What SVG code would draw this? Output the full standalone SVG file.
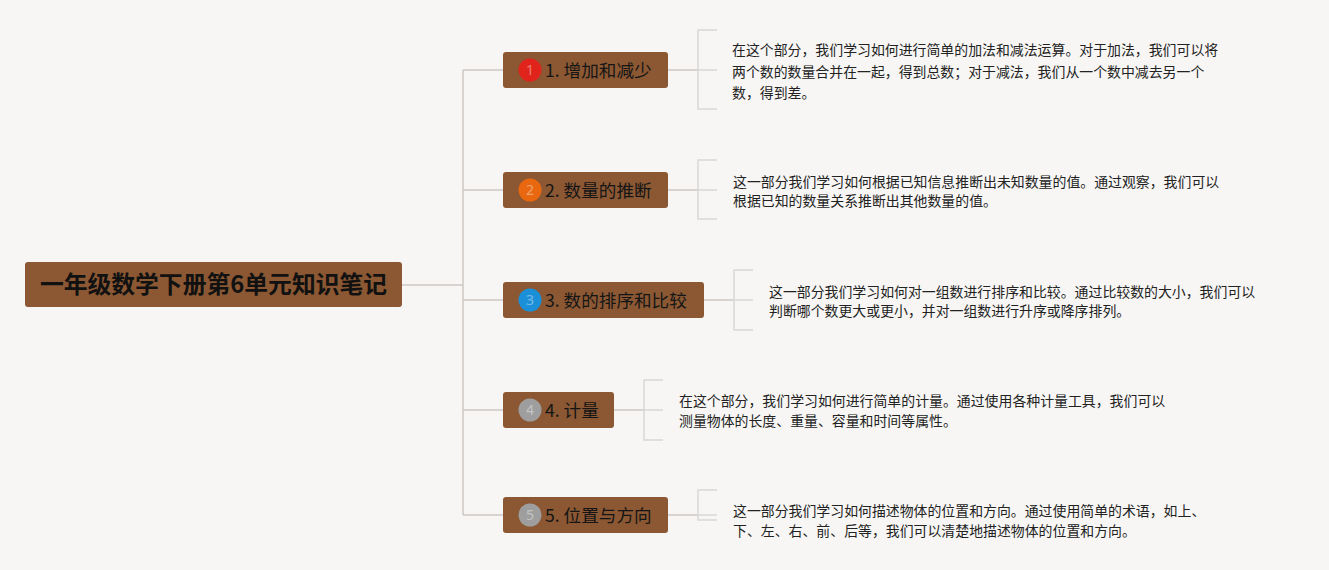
<svg xmlns="http://www.w3.org/2000/svg" width="1329" height="570" viewBox="0 0 1329 570">
<style>
.bg{fill:#f7f6f4}
.box{fill:#8b5833}
.root{font-family:"Noto Sans CJK SC","Noto Sans",sans-serif;font-weight:bold;font-size:23.8px;fill:#111}
.lbl{font-family:"Noto Sans CJK SC","Noto Sans",sans-serif;font-size:17.6px;fill:#151515}
.num{font-family:"Noto Sans","Noto Sans CJK SC",sans-serif;font-size:14px;fill:#ffffff;fill-opacity:0.4}
.txt{font-family:"Noto Sans CJK SC","Noto Sans",sans-serif;font-size:13.9px;fill:#222}
.conn{fill:none;stroke:#cfc8c2;stroke-width:1.5}
.brk{fill:none;stroke:#d8d8d8;stroke-width:1.5}
</style>
<rect class="bg" x="0" y="0" width="1329" height="570"/>
<g id="connectors">
<path class="conn" d="M402,285 H463 M463,70 V515 M463,70 H503 M463,190 H503 M463,300 H503 M463,410 H503 M463,515 H503"/>
<path class="conn" d="M668,70 H698 M668,190 H698 M704,300 H734 M614,410 H644 M668,515 H698"/>
<path class="brk" d="M717,30 H698 V109 H717 M698,70 H717"/>
<path class="brk" d="M717,160 H698 V219 H717 M698,190 H717"/>
<path class="brk" d="M753,270 H734 V330 H753 M734,300 H753"/>
<path class="brk" d="M663,380 H644 V440 H663 M644,410 H663"/>
<path class="brk" d="M717,490 H698 V520 H717 M698,515 H717"/>
</g>
<g id="root">
<rect class="box" x="25" y="262" width="377" height="45" rx="3"/>
<text class="root" x="213.5" y="293" text-anchor="middle">一年级数学下册第6单元知识笔记</text>
</g>
<g id="node1">
<rect class="box" x="503" y="52" width="165" height="36" rx="3"/>
<circle cx="530" cy="70" r="11.5" fill="#e0241b"/>
<text class="num" x="530" y="75" text-anchor="middle">1</text>
<text class="lbl" x="545" y="76.5">1. 增加和减少</text>
</g>
<g id="note1">
<text class="txt" x="732" y="55">在这个部分，我们学习如何进行简单的加法和减法运算。对于加法，我们可以将</text>
<text class="txt" x="732" y="77">两个数的数量合并在一起，得到总数；对于减法，我们从一个数中减去另一个</text>
<text class="txt" x="732" y="98">数，得到差。</text>
</g>
<g id="node2">
<rect class="box" x="503" y="172" width="165" height="36" rx="3"/>
<circle cx="530" cy="190" r="11.5" fill="#e8670f"/>
<text class="num" x="530" y="195" text-anchor="middle">2</text>
<text class="lbl" x="545" y="196.5">2. 数量的推断</text>
</g>
<g id="note2">
<text class="txt" x="733" y="187">这一部分我们学习如何根据已知信息推断出未知数量的值。通过观察，我们可以</text>
<text class="txt" x="733" y="206">根据已知的数量关系推断出其他数量的值。</text>
</g>
<g id="node3">
<rect class="box" x="503" y="282" width="201" height="36" rx="3"/>
<circle cx="530" cy="300" r="11.5" fill="#1b8fd8"/>
<text class="num" x="530" y="305" text-anchor="middle">3</text>
<text class="lbl" x="545" y="306.5">3. 数的排序和比较</text>
</g>
<g id="note3">
<text class="txt" x="769" y="297">这一部分我们学习如何对一组数进行排序和比较。通过比较数的大小，我们可以</text>
<text class="txt" x="769" y="316">判断哪个数更大或更小，并对一组数进行升序或降序排列。</text>
</g>
<g id="node4">
<rect class="box" x="503" y="392" width="111" height="36" rx="3"/>
<circle cx="530" cy="410" r="11.5" fill="#9e9e9e"/>
<text class="num" x="530" y="415" text-anchor="middle">4</text>
<text class="lbl" x="545" y="416.5">4. 计量</text>
</g>
<g id="note4">
<text class="txt" x="679" y="406">在这个部分，我们学习如何进行简单的计量。通过使用各种计量工具，我们可以</text>
<text class="txt" x="679" y="426">测量物体的长度、重量、容量和时间等属性。</text>
</g>
<g id="node5">
<rect class="box" x="503" y="497" width="165" height="36" rx="3"/>
<circle cx="530" cy="515" r="11.5" fill="#9e9e9e"/>
<text class="num" x="530" y="520" text-anchor="middle">5</text>
<text class="lbl" x="545" y="521.5">5. 位置与方向</text>
</g>
<g id="note5">
<text class="txt" x="733" y="516">这一部分我们学习如何描述物体的位置和方向。通过使用简单的术语，如上、</text>
<text class="txt" x="733" y="536">下、左、右、前、后等，我们可以清楚地描述物体的位置和方向。</text>
</g>
</svg>
